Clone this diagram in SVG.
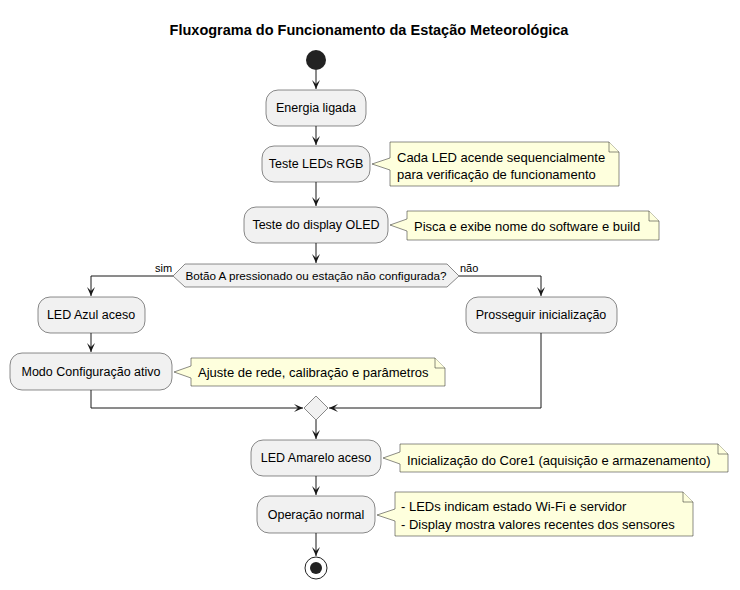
<svg xmlns="http://www.w3.org/2000/svg" width="740" height="590" viewBox="0 0 740 590">
<defs>
<marker id="ah" markerWidth="10" markerHeight="10" viewBox="0 0 10 10" refX="9" refY="5" orient="auto" markerUnits="userSpaceOnUse">
<path d="M0,1 L9,5 L0,9 L4,5 Z" fill="#181818"/>
</marker>
<style>
.n{fill:#F1F1F1;stroke:#181818;stroke-width:0.5}
.note{fill:#FEFFDD;stroke:#181818;stroke-width:0.5}
.t{font-family:"Liberation Sans",Arial,sans-serif;font-size:12.5px;fill:#000;text-anchor:middle}
.nt{font-family:"Liberation Sans",Arial,sans-serif;font-size:13px;fill:#000}
.l{fill:none;stroke:#181818;stroke-width:1}
.a{fill:none;stroke:#181818;stroke-width:1;marker-end:url(#ah)}
</style>
</defs>
<rect width="740" height="590" fill="#FFFFFF"/>
<text x="369" y="35" font-family="Liberation Sans,Arial,sans-serif" font-size="14.5" font-weight="bold" text-anchor="middle">Fluxograma do Funcionamento da Estação Meteorológica</text>

<g id="connectors">
<path class="a" d="M316,70 V89"/>
<path class="a" d="M316,126 V145"/>
<path class="a" d="M316,182 V206"/>
<path class="a" d="M316,243 V263"/>
<path class="a" d="M173,276 H91 V296"/>
<path class="a" d="M459,276 H541 V296"/>
<path class="a" d="M91,333 V352"/>
<path class="a" d="M91,390 V408 H303"/>
<path class="a" d="M541,333 V408 H329"/>
<path class="a" d="M316,420 V439"/>
<path class="a" d="M316,476 V495"/>
<path class="a" d="M316,533 V556"/>
<text x="155" y="272" font-family="Liberation Sans,Arial,sans-serif" font-size="11">sim</text>
<text x="460" y="272" font-family="Liberation Sans,Arial,sans-serif" font-size="11">não</text>
</g>

<g id="start"><circle cx="316" cy="60" r="10" fill="#222222"/></g>

<g id="energia">
<rect class="n" x="266" y="90" width="100" height="36" rx="12"/>
<text class="t" x="316" y="112">Energia ligada</text>
</g>

<g id="teste-leds">
<rect class="n" x="262" y="146" width="108" height="36" rx="12"/>
<text class="t" x="316" y="168">Teste LEDs RGB</text>
</g>
<g id="note-leds">
<path class="note" d="M390,142 H609 L619,152 V186 H390 V170 L372,164 L390,158 Z"/>
<path class="note" d="M609,142 V152 H619"/>
<text class="nt" x="397" y="162">Cada LED acende sequencialmente</text>
<text class="nt" x="397" y="179">para verificação de funcionamento</text>
</g>

<g id="teste-oled">
<rect class="n" x="244" y="207" width="144" height="36" rx="12"/>
<text class="t" x="316" y="229">Teste do display OLED</text>
</g>
<g id="note-oled">
<path class="note" d="M407,211 H649 L659,221 V240 H407 V231 L390,225 L407,219 Z"/>
<path class="note" d="M649,211 V221 H659"/>
<text class="nt" x="414" y="231">Pisca e exibe nome do software e build</text>
</g>

<g id="decisao">
<polygon class="n" points="173,276 185,264 447,264 459,276 447,287 185,287"/>
<text class="t" x="316" y="280" style="font-size:11.7px">Botão A pressionado ou estação não configurada?</text>
</g>

<g id="led-azul">
<rect class="n" x="38" y="297" width="107" height="36" rx="12"/>
<text class="t" x="91" y="319">LED Azul aceso</text>
</g>

<g id="prosseguir">
<rect class="n" x="466" y="297" width="151" height="36" rx="12"/>
<text class="t" x="541" y="319">Prosseguir inicialização</text>
</g>

<g id="modo-config">
<rect class="n" x="10" y="353" width="162" height="37" rx="12"/>
<text class="t" x="91" y="376">Modo Configuração ativo</text>
</g>
<g id="note-config">
<path class="note" d="M191,358 H435 L445,368 V386 H191 V378 L174,372 L191,366 Z"/>
<path class="note" d="M435,358 V368 H445"/>
<text class="nt" x="198" y="377">Ajuste de rede, calibração e parâmetros</text>
</g>

<g id="merge">
<polygon class="n" points="304,408 316,396 328,408 316,420"/>
</g>

<g id="led-amarelo">
<rect class="n" x="251" y="440" width="130" height="36" rx="12"/>
<text class="t" x="316" y="462">LED Amarelo aceso</text>
</g>
<g id="note-amarelo">
<path class="note" d="M400,444 H718 L728,454 V472 H400 V464 L383,458 L400,452 Z"/>
<path class="note" d="M718,444 V454 H728"/>
<text class="nt" x="407" y="465">Inicialização do Core1 (aquisição e armazenamento)</text>
</g>

<g id="operacao">
<rect class="n" x="257" y="496" width="118" height="37" rx="12"/>
<text class="t" x="316" y="519">Operação normal</text>
</g>
<g id="note-operacao">
<path class="note" d="M395,492 H683 L693,502 V536 H395 V521 L377,515 L395,509 Z"/>
<path class="note" d="M683,492 V502 H693"/>
<text class="nt" x="401" y="511">- LEDs indicam estado Wi-Fi e servidor</text>
<text class="nt" x="401" y="529">- Display mostra valores recentes dos sensores</text>
</g>

<g id="end">
<circle cx="316" cy="568" r="11" fill="none" stroke="#222222" stroke-width="1"/>
<circle cx="316" cy="568" r="6" fill="#222222"/>
</g>
</svg>
